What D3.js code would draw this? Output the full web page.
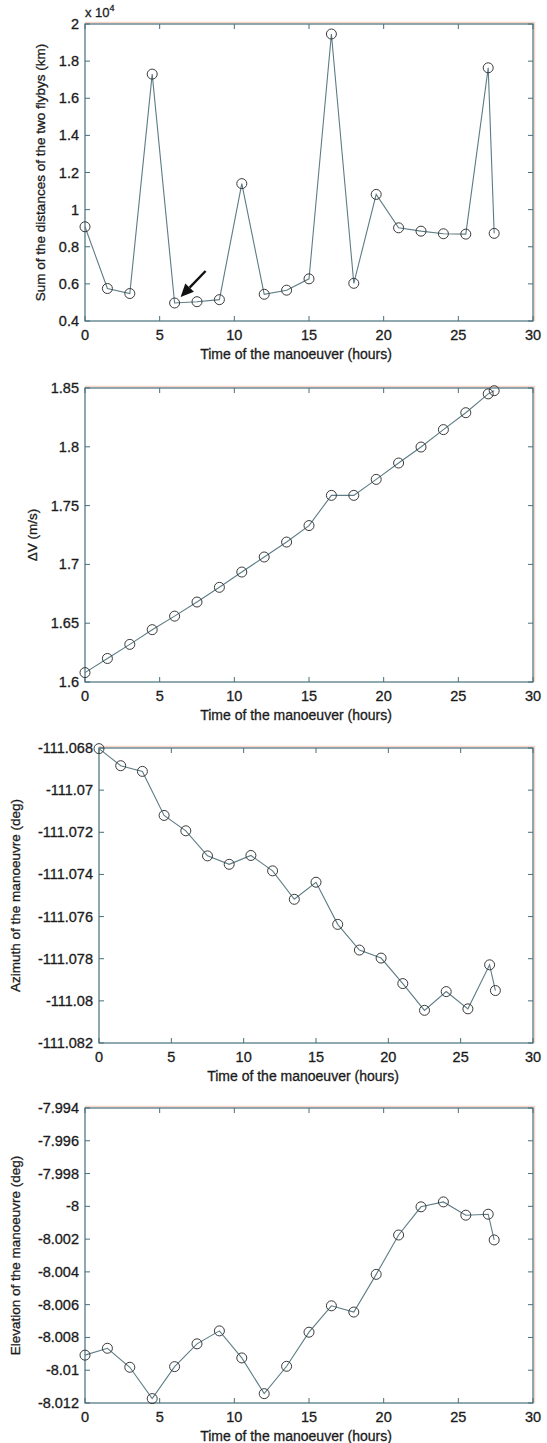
<!DOCTYPE html>
<html>
<head>
<meta charset="utf-8">
<script src="https://cdn.jsdelivr.net/npm/d3@7"></script>
<style>
  body { margin: 0; background: #fff; }
  svg { display: block; }
  text { font-family: "Liberation Sans", Arial, sans-serif; fill: #1b1b1b; stroke: #1b1b1b; stroke-width: 0.3px; }
</style>
</head>
<body>
<svg id="chart" width="547" height="1443"></svg>
<script>
// time of the manoeuvre (hours)
const hours = [0, 1.5, 3, 4.5, 6, 7.5, 9, 10.5, 12, 13.5, 15, 16.5, 18, 19.5, 21, 22.5, 24, 25.5, 27, 27.4];
// sum of the distances of the two flybys (km)
const distSum = [9075, 5750, 5480, 17300, 4970, 5040, 5150, 11400, 5440, 5660, 6270,
  19460, 6030, 10820, 9020, 8840, 8700, 8680, 17640, 8720];
// delta V (m/s)
const deltaV = [1.608, 1.620, 1.632, 1.6445, 1.656, 1.668, 1.6805, 1.6935, 1.7063, 1.719,
  1.733, 1.7587, 1.7587, 1.7723, 1.7862, 1.7998, 1.8146, 1.829, 1.845, 1.8477];
// azimuth (deg)
const azimuth = [-111.06803, -111.06884, -111.06911, -111.0712, -111.07193, -111.07312,
  -111.07352, -111.0731, -111.07383, -111.07518, -111.07437, -111.07637, -111.07759,
  -111.07797, -111.07918, -111.08045, -111.07956, -111.08038, -111.07829, -111.07951];
// elevation (deg)
const elevation = [-8.00908, -8.00866, -8.00982, -8.01173, -8.00978, -8.00839, -8.0076,
  -8.00925, -8.01143, -8.00976, -8.00768, -8.00607, -8.00645, -8.00415, -8.00175,
  -8.00003, -7.99973, -8.00054, -8.00048, -8.00205];

const xTicks = [0, 5, 10, 15, 20, 25, 30];
const distTicks = [4000, 6000, 8000, 10000, 12000, 14000, 16000, 18000, 20000];
const dvTicks = [1.6, 1.65, 1.7, 1.75, 1.8, 1.85];
const azTicks = [-111.082, -111.08, -111.078, -111.076, -111.074, -111.072, -111.07, -111.068];
const elTicks = [-8.012, -8.01, -8.008, -8.006, -8.004, -8.002, -8, -7.998, -7.996, -7.994];

const frameColor = '#46707c';
const fringeColor = 'rgba(240,130,90,0.35)';
const lineColor = '#5d7c85';
const markColor = '#3a3a3a';
const xLabel = 'Time of the manoeuver (hours)';

const svg = d3.select('#chart');

// plain hyphen minus, like the original
const plain = d => String(+d.toFixed(3));

const panels = [
  { values: distSum, ticks: distTicks, domain: [4000, 20000], top: 24, bottom: 321, left: 85,
    label: 'Sum of the distances of the two flybys (km)', labelX: 45,
    fmt: d => plain(d / 1e4), exponent: true, arrowAt: 4 },
  { values: deltaV, ticks: dvTicks, domain: [1.6, 1.85], top: 388, bottom: 682, left: 85,
    label: 'ΔV (m/s)', labelX: 37, fmt: plain },
  { values: azimuth, ticks: azTicks, domain: [-111.082, -111.068], top: 748, bottom: 1043, left: 99,
    label: 'Azimuth of the manoeuvre (deg)', labelX: 20, fmt: plain },
  { values: elevation, ticks: elTicks, domain: [-8.012, -7.994], top: 1108, bottom: 1403, left: 85,
    label: 'Elevation of the manoeuvre (deg)', labelX: 20, fmt: plain }
];
const right = 533;

const drawPanel = (p) => {
  let x = d3.scaleLinear().domain([0, 30]).range([p.left, right]);
  let y = d3.scaleLinear().domain(p.domain).range([p.bottom, p.top]);
  let g = svg.append('g');
  let tickLen = 5;

  // colour fringe on the top and right edges
  g.append('path')
    .attr('d', `M${p.left},${p.top - 1.5}H${right + 1.5}V${p.bottom}`)
    .attr('fill', 'none').attr('stroke', fringeColor).attr('stroke-width', 1.5);

  g.append('rect')
    .attr('x', p.left).attr('y', p.top)
    .attr('width', right - p.left).attr('height', p.bottom - p.top)
    .attr('fill', 'none').attr('stroke', frameColor).attr('stroke-width', 1.2);

  // inward ticks on all four sides
  let axisG = g.append('g').attr('stroke', frameColor).attr('stroke-width', 1);
  xTicks.forEach(t => {
    axisG.append('line').attr('x1', x(t)).attr('x2', x(t)).attr('y1', p.bottom).attr('y2', p.bottom - tickLen);
    axisG.append('line').attr('x1', x(t)).attr('x2', x(t)).attr('y1', p.top).attr('y2', p.top + tickLen);
  });
  p.ticks.forEach(t => {
    axisG.append('line').attr('x1', p.left).attr('x2', p.left + tickLen).attr('y1', y(t)).attr('y2', y(t));
    axisG.append('line').attr('x1', right).attr('x2', right - tickLen).attr('y1', y(t)).attr('y2', y(t));
  });

  g.selectAll('.xtick').data(xTicks).enter().append('text')
    .attr('class', 'xtick')
    .attr('x', d => x(d)).attr('y', p.bottom + 19)
    .attr('text-anchor', 'middle').attr('font-size', 14.5)
    .text(d => d);

  g.selectAll('.ytick').data(p.ticks).enter().append('text')
    .attr('class', 'ytick')
    .attr('x', p.left - 6).attr('y', d => y(d) + 5)
    .attr('text-anchor', 'end').attr('font-size', 14.5)
    .text(d => p.fmt(d));

  g.append('text')
    .attr('x', (p.left + right) / 2 - 13).attr('y', p.bottom + 38)
    .attr('text-anchor', 'middle').attr('font-size', 14)
    .text(xLabel);

  g.append('text')
    .attr('transform', `translate(${p.labelX},${(p.top + p.bottom) / 2}) rotate(-90)`)
    .attr('text-anchor', 'middle').attr('font-size', 13.5)
    .text(p.label);

  if (p.exponent) {
    let ex = g.append('text').attr('x', p.left).attr('y', p.top - 7).attr('font-size', 13);
    ex.append('tspan').text('x 10');
    ex.append('tspan').attr('dy', -6).attr('font-size', 9).text('4');
  }

  let pts = hours.map((h, i) => [h, p.values[i]]);
  g.append('path')
    .datum(pts)
    .attr('fill', 'none').attr('stroke', lineColor).attr('stroke-width', 1.1)
    .attr('d', d3.line().x(d => x(d[0])).y(d => y(d[1])));

  g.selectAll('.mark').data(pts).enter().append('circle')
    .attr('class', 'mark')
    .attr('cx', d => x(d[0])).attr('cy', d => y(d[1])).attr('r', 5)
    .attr('fill', 'none').attr('stroke', markColor).attr('stroke-width', 1);

  if (p.arrowAt !== undefined) {
    // arrow pointing at the minimum distance
    let tx = x(hours[p.arrowAt]) + 6;
    let ty = y(p.values[p.arrowAt]) - 6;
    let sx = tx + 25, sy = ty - 26;
    let ang = Math.atan2(ty - sy, tx - sx);
    let headLen = 13, headW = 6;
    let bx = tx - headLen * Math.cos(ang), by = ty - headLen * Math.sin(ang);
    g.append('line')
      .attr('x1', sx).attr('y1', sy).attr('x2', bx).attr('y2', by)
      .attr('stroke', '#111').attr('stroke-width', 2.4);
    g.append('path')
      .attr('d', `M${tx},${ty}L${bx + headW * Math.sin(ang)},${by - headW * Math.cos(ang)}L${bx - headW * Math.sin(ang)},${by + headW * Math.cos(ang)}Z`)
      .attr('fill', '#111');
  }
};

panels.forEach(p => drawPanel(p));
</script>
</body>
</html>
